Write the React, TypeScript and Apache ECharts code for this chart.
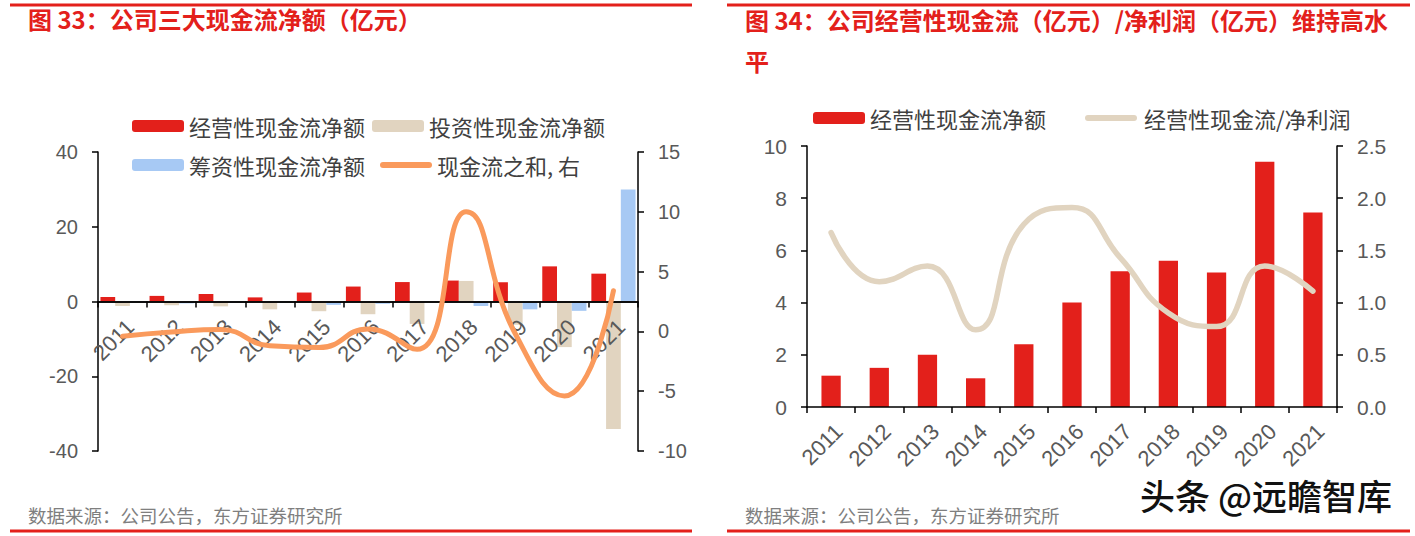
import React, { useEffect, useRef } from "react";
import * as echarts from "echarts";

const years = ["2011", "2012", "2013", "2014", "2015", "2016", "2017", "2018", "2019", "2020", "2021"];
const operating = [1.2, 1.5, 2.0, 1.1, 2.4, 4.0, 5.2, 5.6, 5.15, 9.4, 7.45];
const investing = [-1.2, -1.0, -1.3, -2.1, -2.6, -3.4, -6.0, 5.5, -6.2, -12.2, -34.1];
const financing = [-0.2, -0.5, -0.3, -0.3, -0.9, -0.6, -0.1, -1.2, -2.1, -2.5, 30.0];
const cashSum = [-0.4, -0.05, 0.15, -1.2, -1.35, 0.2, -1.5, 10.0, -0.2, -5.4, 3.4];
const cashToProfit = [1.67, 1.2, 1.35, 0.74, 1.75, 1.91, 1.43, 0.9, 0.77, 1.35, 1.11];

const leftTicks = { min: -40, max: 40, interval: 20 };
const rightTicks = { min: -10, max: 15, interval: 5 };
const r2LeftTicks = { min: 0, max: 10, interval: 2 };
const r2RightTicks = { min: 0, max: 2.5, interval: 0.5 };

const RED = "#E3201B";
const TAN = "#E1D4C0";
const BLUE = "#A7C9F4";
const ORANGE = "#FA9A5C";
const LABEL = "#595959";
const FONT = '"Liberation Sans", Arial, "Noto Sans CJK SC", sans-serif';
const CJK = '"Noto Sans CJK SC", "Liberation Sans", sans-serif';
const LINE_ICON = "path://M3,0 H49 A3,3 0 0 1 49,6 H3 A3,3 0 0 1 3,0 Z";

export default function App() {
  const ref = useRef<HTMLDivElement>(null);
  useEffect(() => {
    document.body.style.margin = "0";
    const chart = echarts.init(ref.current!, null, { renderer: "svg" });
    const valueAxis = (grid: number, t: any, pos: string, fs: number, fmt?: any) => ({
      type: "value",
      gridIndex: grid,
      position: pos,
      min: t.min,
      max: t.max,
      interval: t.interval,
      axisLine: { show: true, lineStyle: { color: "#000", width: 1.5 } },
      axisTick: { show: true, length: 6, lineStyle: { color: "#000", width: 1.5 } },
      splitLine: { show: false },
      axisLabel: { color: LABEL, fontSize: fs, fontFamily: FONT, margin: 20, formatter: fmt },
    });
    const catAxis = (grid: number, fs: number, offset: number, margin: number) => ({
      type: "category",
      gridIndex: grid,
      position: "bottom",
      offset,
      z: 10,
      data: years,
      axisLine: { show: true, onZero: false, lineStyle: { color: "#000", width: 1.5 } },
      axisTick: { show: true, length: 6, lineStyle: { color: "#000", width: 1.5 } },
      axisLabel: {
        color: LABEL, fontSize: fs, fontFamily: FONT, rotate: 45, margin, interval: 0,
        verticalAlign: "top",
      },
    });
    const legendText = { color: "#404040", fontSize: 22, fontFamily: CJK };
    chart.setOption({
      animation: false,
      grid: [
        { left: 98, top: 152, width: 540, height: 299 },
        { left: 807, top: 146, width: 530, height: 261 },
      ],
      xAxis: [catAxis(0, 22, -149.5, 14), catAxis(1, 22, 0, 13)],
      yAxis: [
        valueAxis(0, leftTicks, "left", 20),
        valueAxis(0, rightTicks, "right", 20),
        valueAxis(1, r2LeftTicks, "left", 21),
        valueAxis(1, r2RightTicks, "right", 21, (v: number) => v.toFixed(1)),
      ],
      legend: [
        {
          left: 127, top: 110, itemWidth: 52, itemHeight: 12, itemGap: 7,
          data: ["经营性现金流净额", "投资性现金流净额"], textStyle: legendText,
        },
        {
          left: 127, top: 149, itemWidth: 52, itemHeight: 12, itemGap: 7,
          data: ["筹资性现金流净额"], textStyle: legendText,
        },
        {
          left: 375, top: 149, itemWidth: 52, itemHeight: 6, itemGap: 7,
          data: [{ name: "现金流之和, 右", icon: LINE_ICON }], textStyle: legendText,
        },
        {
          left: 808, top: 102, itemWidth: 52, itemHeight: 12, itemGap: 33,
          data: ["经营性现金流净额"], textStyle: legendText,
        },
        {
          left: 1080, top: 102, itemWidth: 56, itemHeight: 6, itemGap: 7,
          data: [{ name: "经营性现金流/净利润", icon: LINE_ICON }], textStyle: legendText,
        },
      ],
      series: [
        {
          name: "经营性现金流净额", type: "bar", xAxisIndex: 0, yAxisIndex: 0, data: operating,
          itemStyle: { color: RED }, barGap: "0%", barCategoryGap: "10%",
          markLine: {
            silent: true, symbol: "none", z: 12,
            label: { show: false },
            lineStyle: { color: "#000", width: 1.5, type: "solid" },
            data: [{ yAxis: 0 }],
          },
        },
        {
          name: "投资性现金流净额", type: "bar", xAxisIndex: 0, yAxisIndex: 0, data: investing,
          itemStyle: { color: TAN }, barGap: "0%", barCategoryGap: "10%",
        },
        {
          name: "筹资性现金流净额", type: "bar", xAxisIndex: 0, yAxisIndex: 0, data: financing,
          itemStyle: { color: BLUE }, barGap: "0%", barCategoryGap: "10%",
        },
        {
          name: "现金流之和, 右", type: "line", xAxisIndex: 0, yAxisIndex: 1, data: cashSum,
          smooth: 0.5, symbol: "none", z: 15,
          lineStyle: { color: ORANGE, width: 5, cap: "round" }, itemStyle: { color: ORANGE },
        },
        {
          name: "经营性现金流净额", type: "bar", xAxisIndex: 1, yAxisIndex: 2, data: operating,
          itemStyle: { color: RED }, barCategoryGap: "60%",
        },
        {
          name: "经营性现金流/净利润", type: "line", xAxisIndex: 1, yAxisIndex: 3, data: cashToProfit,
          smooth: 0.5, symbol: "none", z: 15,
          lineStyle: { color: TAN, width: 5.5, cap: "round" }, itemStyle: { color: TAN },
        },
      ],
      graphic: [
        { type: "line", shape: { x1: 10, y1: 5, x2: 692, y2: 5 }, style: { stroke: RED, lineWidth: 3 } },
        { type: "line", shape: { x1: 727, y1: 5, x2: 1410, y2: 5 }, style: { stroke: RED, lineWidth: 3 } },
        { type: "line", shape: { x1: 10, y1: 531, x2: 692, y2: 531 }, style: { stroke: RED, lineWidth: 3 } },
        { type: "line", shape: { x1: 727, y1: 531, x2: 1410, y2: 531 }, style: { stroke: RED, lineWidth: 3 } },
        {
          type: "text", left: 28, top: 6,
          style: { text: "图 33：公司三大现金流净额（亿元）", fill: RED, font: `bold 24px ${CJK}` },
        },
        {
          type: "text", left: 745, top: -1,
          style: {
            text: "图 34：公司经营性现金流（亿元）/净利润（亿元）维持高水\n平",
            fill: RED, font: `bold 24px ${CJK}`, lineHeight: 41,
          },
        },
        {
          type: "text", left: 28, top: 506,
          style: { text: "数据来源：公司公告，东方证券研究所", fill: "#7F7F7F", font: `18.5px ${CJK}` },
        },
        {
          type: "text", left: 745, top: 506,
          style: { text: "数据来源：公司公告，东方证券研究所", fill: "#7F7F7F", font: `18.5px ${CJK}` },
        },
        {
          type: "text", left: 1139, top: 476, z: 100,
          style: {
            text: "头条 @远瞻智库", fill: "#111", font: `500 35px ${CJK}`,
            stroke: "#fff", lineWidth: 2,
          },
        },
      ],
    });
    return () => chart.dispose();
  }, []);
  return <div ref={ref} style={{ position: "absolute", left: 0, top: 0, width: 1415, height: 536 }} />;
}
